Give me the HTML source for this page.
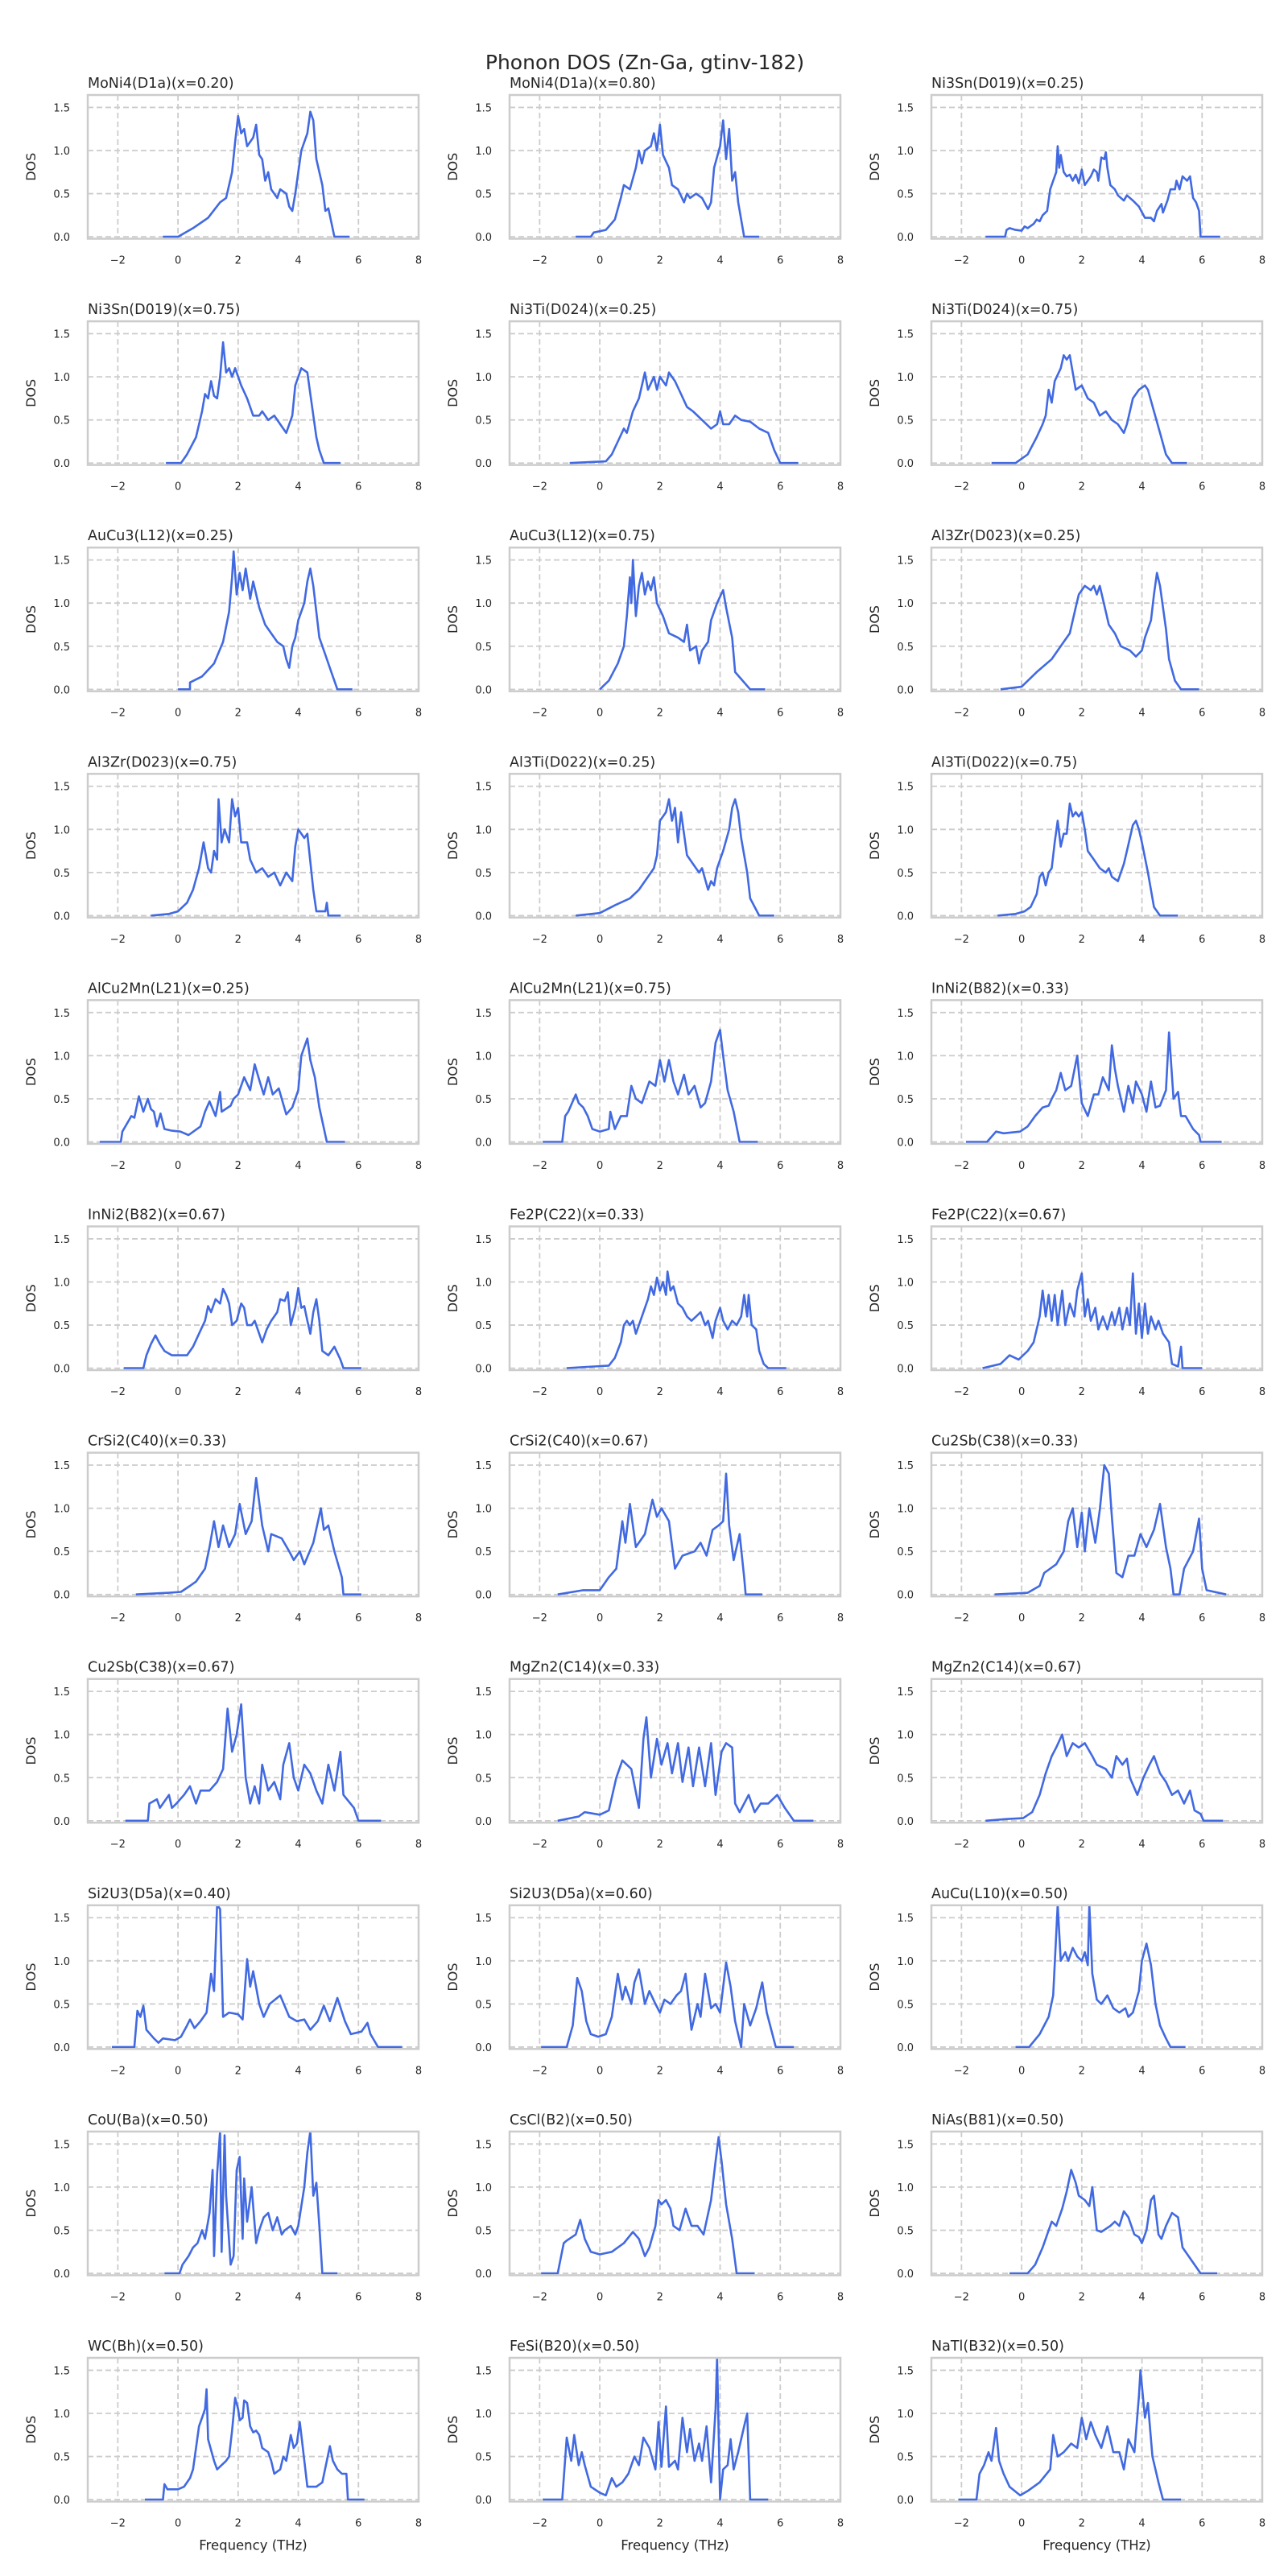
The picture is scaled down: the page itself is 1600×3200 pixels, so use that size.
<!DOCTYPE html>
<html><head><meta charset="utf-8">
<style>
html,body{margin:0;padding:0;background:#fff;}
svg{display:block;font-family:"DejaVu Sans","Liberation Sans",sans-serif;}
</style></head>
<body>
<svg id="fig" width="1600" height="3200" viewBox="0 0 1600 3200" xmlns="http://www.w3.org/2000/svg">
<rect x="0" y="0" width="1600" height="3200" fill="#fff"/>
<text x="801" y="86" font-size="25" fill="#262626" text-anchor="middle">Phonon DOS (Zn-Ga, gtinv-182)</text>
</svg>
<script>
const panelTitles = ["MoNi4(D1a)(x=0.20)","MoNi4(D1a)(x=0.80)","Ni3Sn(D019)(x=0.25)","Ni3Sn(D019)(x=0.75)","Ni3Ti(D024)(x=0.25)","Ni3Ti(D024)(x=0.75)","AuCu3(L12)(x=0.25)","AuCu3(L12)(x=0.75)","Al3Zr(D023)(x=0.25)","Al3Zr(D023)(x=0.75)","Al3Ti(D022)(x=0.25)","Al3Ti(D022)(x=0.75)","AlCu2Mn(L21)(x=0.25)","AlCu2Mn(L21)(x=0.75)","InNi2(B82)(x=0.33)","InNi2(B82)(x=0.67)","Fe2P(C22)(x=0.33)","Fe2P(C22)(x=0.67)","CrSi2(C40)(x=0.33)","CrSi2(C40)(x=0.67)","Cu2Sb(C38)(x=0.33)","Cu2Sb(C38)(x=0.67)","MgZn2(C14)(x=0.33)","MgZn2(C14)(x=0.67)","Si2U3(D5a)(x=0.40)","Si2U3(D5a)(x=0.60)","AuCu(L10)(x=0.50)","CoU(Ba)(x=0.50)","CsCl(B2)(x=0.50)","NiAs(B81)(x=0.50)","WC(Bh)(x=0.50)","FeSi(B20)(x=0.50)","NaTl(B32)(x=0.50)"];
const xTickValues = [-2,0,2,4,6,8];
const yTickValues = [0,0.5,1.0,1.5];
const yTickLabels = ["0.0","0.5","1.0","1.5"];
const xDomain = [-3,8];
const yDomain = [-0.022,1.644];
// each curve: [frequency, dos] pairs
const dosCurves = [
[[-0.5,0],[0,0],[0.5,0.1],[1,0.22],[1.4,0.4],[1.6,0.45],[1.8,0.75],[1.9,1.1],[2.0,1.4],[2.1,1.2],[2.2,1.25],[2.3,1.05],[2.5,1.15],[2.6,1.3],[2.7,0.95],[2.8,0.9],[2.9,0.65],[3.0,0.75],[3.1,0.55],[3.3,0.45],[3.4,0.55],[3.6,0.5],[3.7,0.35],[3.8,0.3],[3.9,0.5],[4.1,1.0],[4.3,1.2],[4.4,1.45],[4.5,1.35],[4.6,0.9],[4.8,0.6],[4.9,0.3],[5.0,0.33],[5.2,0],[5.7,0]],
[[-0.8,0],[-0.3,0],[-0.2,0.05],[0.2,0.08],[0.5,0.2],[0.7,0.45],[0.8,0.6],[1,0.55],[1.2,0.8],[1.3,1.0],[1.4,0.85],[1.5,1.0],[1.7,1.05],[1.8,1.2],[1.9,1.0],[2.0,1.3],[2.1,0.95],[2.3,0.8],[2.4,0.6],[2.6,0.55],[2.8,0.4],[2.9,0.5],[3.0,0.45],[3.2,0.5],[3.4,0.45],[3.6,0.32],[3.7,0.4],[3.8,0.8],[4.0,1.05],[4.1,1.35],[4.2,0.9],[4.3,1.25],[4.4,0.65],[4.5,0.75],[4.6,0.4],[4.8,0],[5.3,0]],
[[-1.2,0],[-0.55,0],[-0.5,0.08],[-0.4,0.1],[-0.2,0.08],[0,0.07],[0.1,0.12],[0.2,0.1],[0.4,0.15],[0.5,0.2],[0.6,0.18],[0.7,0.25],[0.85,0.3],[0.95,0.55],[1.05,0.65],[1.15,0.75],[1.2,1.05],[1.25,0.8],[1.3,0.95],[1.4,0.75],[1.5,0.7],[1.6,0.72],[1.7,0.65],[1.8,0.72],[1.9,0.62],[2.0,0.78],[2.1,0.6],[2.3,0.7],[2.4,0.78],[2.5,0.75],[2.55,0.65],[2.65,0.92],[2.75,0.9],[2.8,0.98],[2.85,0.8],[2.95,0.6],[3.1,0.55],[3.2,0.48],[3.4,0.42],[3.5,0.48],[3.7,0.42],[3.9,0.35],[4.1,0.22],[4.3,0.22],[4.4,0.18],[4.5,0.3],[4.65,0.38],[4.7,0.28],[4.85,0.42],[4.95,0.55],[5.1,0.55],[5.15,0.65],[5.25,0.55],[5.35,0.7],[5.5,0.65],[5.6,0.7],[5.7,0.45],[5.8,0.4],[5.9,0.3],[5.95,0],[6.6,0]],
[[-0.4,0],[0.1,0],[0.3,0.1],[0.6,0.3],[0.8,0.6],[0.9,0.8],[1.0,0.75],[1.1,0.95],[1.2,0.78],[1.3,0.75],[1.4,1.0],[1.5,1.4],[1.6,1.05],[1.7,1.1],[1.8,1.0],[1.9,1.1],[2.1,0.9],[2.3,0.75],[2.5,0.55],[2.7,0.55],[2.8,0.6],[3.0,0.5],[3.2,0.55],[3.4,0.45],[3.6,0.35],[3.8,0.55],[3.9,0.9],[4.1,1.1],[4.3,1.05],[4.4,0.8],[4.6,0.3],[4.7,0.15],[4.85,0],[5.4,0]],
[[-1,0],[0.2,0.02],[0.4,0.1],[0.6,0.25],[0.8,0.4],[0.9,0.35],[1.1,0.6],[1.3,0.75],[1.5,1.05],[1.6,0.85],[1.8,1.0],[1.9,0.85],[2.0,1.0],[2.2,0.9],[2.3,1.05],[2.5,0.95],[2.7,0.8],[2.9,0.65],[3.1,0.6],[3.4,0.5],[3.7,0.4],[3.9,0.45],[4.0,0.6],[4.1,0.45],[4.3,0.45],[4.5,0.55],[4.7,0.5],[5.0,0.48],[5.3,0.4],[5.6,0.35],[5.8,0.15],[6.0,0],[6.6,0]],
[[-1,0],[-0.2,0],[0.2,0.1],[0.5,0.3],[0.7,0.45],[0.8,0.55],[0.9,0.85],[1.0,0.7],[1.1,0.95],[1.3,1.1],[1.4,1.25],[1.5,1.2],[1.6,1.25],[1.7,1.05],[1.8,0.85],[2.0,0.9],[2.2,0.75],[2.4,0.7],[2.6,0.55],[2.8,0.6],[3.0,0.5],[3.2,0.45],[3.4,0.35],[3.5,0.45],[3.7,0.75],[3.9,0.85],[4.1,0.9],[4.2,0.85],[4.4,0.6],[4.6,0.35],[4.8,0.1],[5.0,0],[5.5,0]],
[[0,0],[0.4,0],[0.4,0.08],[0.8,0.15],[1.2,0.3],[1.5,0.55],[1.7,0.9],[1.8,1.3],[1.85,1.6],[1.95,1.1],[2.05,1.35],[2.15,1.15],[2.25,1.4],[2.4,1.05],[2.5,1.25],[2.7,0.95],[2.9,0.75],[3.1,0.65],[3.3,0.55],[3.5,0.5],[3.6,0.35],[3.7,0.25],[3.8,0.5],[3.9,0.6],[4.0,0.8],[4.2,1.0],[4.3,1.25],[4.4,1.4],[4.5,1.2],[4.7,0.6],[4.9,0.4],[5.1,0.2],[5.3,0],[5.8,0]],
[[0,0],[0.3,0.1],[0.6,0.3],[0.8,0.5],[0.9,0.85],[1.0,1.3],[1.05,1.0],[1.1,1.5],[1.2,0.85],[1.3,1.2],[1.4,1.35],[1.5,1.1],[1.6,1.25],[1.7,1.15],[1.8,1.3],[1.9,1.0],[2.1,0.85],[2.3,0.65],[2.6,0.6],[2.8,0.55],[2.9,0.75],[3.0,0.45],[3.2,0.5],[3.3,0.3],[3.4,0.45],[3.6,0.55],[3.7,0.8],[3.9,1.0],[4.1,1.15],[4.2,0.95],[4.4,0.6],[4.5,0.2],[4.7,0.12],[5.0,0],[5.5,0]],
[[-0.7,0],[0,0.03],[0.5,0.2],[1.0,0.35],[1.4,0.55],[1.6,0.65],[1.8,0.95],[1.9,1.1],[2.1,1.2],[2.3,1.15],[2.4,1.2],[2.5,1.1],[2.6,1.2],[2.8,0.9],[2.9,0.75],[3.1,0.65],[3.3,0.5],[3.6,0.45],[3.8,0.38],[4.0,0.45],[4.1,0.6],[4.3,0.8],[4.4,1.1],[4.5,1.35],[4.6,1.2],[4.8,0.7],[4.9,0.35],[5.1,0.1],[5.3,0],[5.9,0]],
[[-0.9,0],[-0.3,0.02],[0,0.05],[0.3,0.15],[0.5,0.3],[0.7,0.55],[0.85,0.85],[1.0,0.55],[1.1,0.5],[1.2,0.75],[1.3,0.65],[1.35,1.35],[1.45,0.85],[1.55,1.0],[1.7,0.85],[1.8,1.35],[1.9,1.15],[2.0,1.25],[2.1,0.85],[2.3,0.85],[2.4,0.65],[2.6,0.5],[2.8,0.55],[3.0,0.45],[3.2,0.5],[3.4,0.35],[3.6,0.5],[3.8,0.4],[3.9,0.8],[4.0,1.0],[4.2,0.9],[4.3,0.95],[4.5,0.3],[4.6,0.05],[4.9,0.05],[4.95,0.15],[5.0,0],[5.4,0]],
[[-0.8,0],[0,0.03],[0.5,0.12],[1.0,0.2],[1.3,0.3],[1.6,0.45],[1.8,0.55],[1.9,0.7],[2.0,1.1],[2.1,1.15],[2.2,1.2],[2.3,1.35],[2.4,1.1],[2.5,1.25],[2.6,0.85],[2.7,1.2],[2.8,0.95],[2.9,0.7],[3.1,0.6],[3.3,0.5],[3.4,0.55],[3.6,0.3],[3.7,0.4],[3.8,0.35],[3.9,0.55],[4.1,0.75],[4.3,1.0],[4.4,1.25],[4.5,1.35],[4.6,1.2],[4.7,0.9],[4.9,0.5],[5.0,0.2],[5.3,0],[5.8,0]],
[[-0.8,0],[-0.2,0.02],[0.1,0.05],[0.3,0.1],[0.5,0.25],[0.6,0.45],[0.7,0.5],[0.8,0.35],[0.9,0.5],[1.0,0.55],[1.1,0.85],[1.2,1.1],[1.3,0.8],[1.4,0.95],[1.5,0.95],[1.6,1.3],[1.7,1.15],[1.8,1.2],[1.9,1.15],[2.0,1.2],[2.1,1.0],[2.2,0.75],[2.4,0.65],[2.6,0.55],[2.8,0.5],[2.9,0.55],[3.0,0.45],[3.2,0.4],[3.4,0.6],[3.5,0.75],[3.7,1.05],[3.8,1.1],[3.9,1.0],[4.0,0.85],[4.2,0.5],[4.4,0.1],[4.6,0],[5.2,0]],
[[-2.6,0],[-1.9,0],[-1.85,0.12],[-1.55,0.3],[-1.45,0.28],[-1.3,0.53],[-1.15,0.35],[-1.0,0.5],[-0.9,0.38],[-0.8,0.35],[-0.7,0.18],[-0.58,0.33],[-0.45,0.15],[-0.2,0.13],[0.08,0.12],[0.35,0.08],[0.75,0.18],[0.9,0.35],[1.05,0.47],[1.25,0.3],[1.4,0.58],[1.45,0.35],[1.75,0.42],[1.85,0.5],[2.0,0.55],[2.2,0.75],[2.4,0.6],[2.55,0.9],[2.7,0.72],[2.85,0.55],[3.0,0.75],[3.15,0.55],[3.35,0.62],[3.6,0.32],[3.8,0.4],[4.0,0.6],[4.1,1.0],[4.3,1.2],[4.4,0.95],[4.55,0.75],[4.7,0.4],[4.95,0],[5.55,0]],
[[-1.9,0],[-1.25,0],[-1.15,0.3],[-1.05,0.35],[-0.8,0.55],[-0.7,0.45],[-0.55,0.4],[-0.4,0.3],[-0.25,0.15],[0,0.12],[0.3,0.15],[0.35,0.35],[0.5,0.15],[0.7,0.3],[0.9,0.3],[1.05,0.65],[1.2,0.5],[1.4,0.45],[1.5,0.55],[1.65,0.7],[1.85,0.65],[2.0,0.95],[2.15,0.7],[2.3,0.95],[2.45,0.7],[2.6,0.55],[2.8,0.78],[2.95,0.55],[3.15,0.65],[3.35,0.4],[3.5,0.45],[3.7,0.7],[3.85,1.15],[4.0,1.3],[4.1,1.0],[4.25,0.6],[4.45,0.35],[4.65,0],[5.25,0]],
[[-1.85,0],[-1.15,0],[-0.85,0.12],[-0.6,0.1],[-0.05,0.12],[0.2,0.18],[0.45,0.3],[0.7,0.4],[0.9,0.42],[1.0,0.5],[1.15,0.6],[1.3,0.8],[1.45,0.6],[1.65,0.65],[1.85,1.0],[2.0,0.45],[2.2,0.3],[2.4,0.55],[2.55,0.55],[2.7,0.75],[2.9,0.6],[3.0,1.12],[3.1,0.85],[3.2,0.65],[3.4,0.35],[3.55,0.65],[3.7,0.45],[3.8,0.7],[4.0,0.55],[4.15,0.35],[4.3,0.7],[4.45,0.4],[4.6,0.42],[4.8,0.6],[4.9,1.27],[5.05,0.5],[5.2,0.58],[5.3,0.3],[5.45,0.3],[5.7,0.15],[5.9,0.08],[5.95,0],[6.65,0]],
[[-1.8,0],[-1.15,0],[-1.05,0.15],[-0.9,0.28],[-0.75,0.38],[-0.6,0.28],[-0.45,0.2],[-0.2,0.15],[0.3,0.15],[0.5,0.25],[0.7,0.4],[0.9,0.55],[1.0,0.72],[1.1,0.65],[1.25,0.8],[1.4,0.75],[1.5,0.92],[1.6,0.85],[1.7,0.75],[1.8,0.5],[1.95,0.55],[2.1,0.75],[2.2,0.7],[2.3,0.5],[2.45,0.5],[2.55,0.55],[2.7,0.4],[2.8,0.3],[2.95,0.45],[3.1,0.55],[3.3,0.65],[3.4,0.8],[3.55,0.78],[3.65,0.88],[3.75,0.5],[3.9,0.7],[4.0,0.93],[4.1,0.7],[4.2,0.72],[4.3,0.55],[4.4,0.4],[4.5,0.65],[4.6,0.8],[4.7,0.55],[4.8,0.2],[5.0,0.15],[5.2,0.25],[5.4,0.1],[5.5,0],[6.1,0]],
[[-1.1,0],[-0.2,0.02],[0.3,0.03],[0.5,0.12],[0.7,0.3],[0.8,0.5],[0.9,0.55],[1.0,0.5],[1.1,0.55],[1.2,0.4],[1.4,0.6],[1.6,0.8],[1.7,0.95],[1.8,0.85],[1.9,1.05],[2.0,0.9],[2.1,1.0],[2.2,0.85],[2.25,1.12],[2.35,0.9],[2.45,0.95],[2.6,0.75],[2.75,0.7],[2.9,0.6],[3.05,0.55],[3.2,0.6],[3.35,0.65],[3.5,0.5],[3.6,0.55],[3.75,0.35],[3.85,0.55],[4.0,0.7],[4.1,0.55],[4.25,0.45],[4.4,0.55],[4.55,0.5],[4.7,0.6],[4.8,0.85],[4.9,0.6],[4.95,0.85],[5.05,0.5],[5.2,0.45],[5.3,0.2],[5.45,0.05],[5.6,0],[6.2,0]],
[[-1.3,0],[-0.7,0.05],[-0.4,0.15],[-0.1,0.1],[0.2,0.2],[0.4,0.3],[0.6,0.6],[0.7,0.9],[0.8,0.6],[0.9,0.85],[1.0,0.55],[1.1,0.85],[1.2,0.5],[1.35,0.9],[1.45,0.5],[1.6,0.75],[1.75,0.6],[1.85,0.9],[2.0,1.1],[2.1,0.6],[2.2,0.8],[2.3,0.55],[2.45,0.7],[2.55,0.45],[2.7,0.6],[2.85,0.45],[3.0,0.65],[3.1,0.5],[3.25,0.7],[3.35,0.45],[3.5,0.7],[3.6,0.5],[3.7,1.1],[3.8,0.4],[3.9,0.75],[4.0,0.35],[4.1,0.75],[4.2,0.4],[4.3,0.6],[4.45,0.45],[4.55,0.55],[4.7,0.4],[4.9,0.3],[5.0,0.05],[5.2,0.02],[5.3,0.25],[5.35,0],[6,0]],
[[-1.4,0],[-0.3,0.02],[0.1,0.03],[0.4,0.1],[0.6,0.15],[0.9,0.3],[1.05,0.55],[1.2,0.85],[1.35,0.55],[1.5,0.8],[1.7,0.55],[1.9,0.7],[2.05,1.05],[2.25,0.7],[2.45,0.85],[2.6,1.35],[2.8,0.8],[3.0,0.5],[3.1,0.7],[3.45,0.65],[3.7,0.5],[3.85,0.4],[4.05,0.5],[4.2,0.35],[4.5,0.6],[4.75,1.0],[4.85,0.75],[5.0,0.8],[5.2,0.5],[5.45,0.2],[5.5,0],[6.1,0]],
[[-1.4,0],[-0.55,0.05],[0,0.05],[0.3,0.2],[0.55,0.3],[0.75,0.85],[0.85,0.6],[1.0,1.05],[1.2,0.55],[1.5,0.7],[1.75,1.1],[1.9,0.9],[2.05,1.0],[2.3,0.85],[2.5,0.3],[2.75,0.45],[3.15,0.5],[3.35,0.6],[3.55,0.45],[3.75,0.75],[3.95,0.8],[4.1,0.85],[4.2,1.4],[4.3,0.8],[4.45,0.4],[4.65,0.7],[4.8,0.2],[4.85,0],[5.4,0]],
[[-0.9,0],[0.2,0.02],[0.6,0.1],[0.75,0.25],[1.15,0.35],[1.4,0.5],[1.55,0.85],[1.7,1.0],[1.85,0.55],[2.0,0.95],[2.1,0.5],[2.25,1.0],[2.45,0.6],[2.6,0.98],[2.75,1.5],[2.9,1.4],[3.0,0.9],[3.15,0.25],[3.35,0.2],[3.55,0.45],[3.75,0.45],[3.95,0.7],[4.15,0.55],[4.4,0.75],[4.6,1.05],[4.8,0.55],[4.95,0.3],[5.05,0],[5.25,0],[5.4,0.3],[5.7,0.5],[5.9,0.88],[6.0,0.3],[6.15,0.05],[6.8,0]],
[[-1.75,0],[-1.0,0],[-0.95,0.2],[-0.7,0.25],[-0.6,0.15],[-0.3,0.3],[-0.2,0.15],[-0.05,0.2],[0.2,0.3],[0.4,0.4],[0.6,0.2],[0.75,0.35],[1.05,0.35],[1.3,0.45],[1.5,0.6],[1.65,1.3],[1.8,0.8],[1.95,1.0],[2.1,1.35],[2.25,0.5],[2.4,0.2],[2.55,0.4],[2.7,0.2],[2.8,0.65],[3.0,0.35],[3.2,0.45],[3.4,0.25],[3.5,0.65],[3.7,0.9],[3.85,0.5],[4.0,0.35],[4.2,0.65],[4.4,0.55],[4.6,0.35],[4.8,0.2],[5.0,0.65],[5.2,0.35],[5.4,0.8],[5.5,0.3],[5.85,0.15],[6.0,0],[6.75,0]],
[[-1.4,0],[-0.7,0.05],[-0.5,0.1],[0,0.07],[0.3,0.12],[0.55,0.5],[0.75,0.7],[1.05,0.6],[1.3,0.15],[1.45,0.95],[1.55,1.2],[1.7,0.5],[1.9,0.95],[2.05,0.65],[2.25,0.9],[2.4,0.55],[2.6,0.9],[2.75,0.45],[2.95,0.85],[3.1,0.4],[3.3,0.85],[3.5,0.4],[3.7,0.9],[3.85,0.3],[4.05,0.8],[4.2,0.9],[4.4,0.85],[4.5,0.2],[4.65,0.1],[4.95,0.3],[5.15,0.1],[5.35,0.2],[5.6,0.2],[5.9,0.3],[6.15,0.15],[6.45,0],[7.1,0]],
[[-1.2,0],[-0.5,0.02],[0.05,0.03],[0.35,0.1],[0.6,0.3],[0.8,0.55],[1.0,0.75],[1.15,0.85],[1.35,1.0],[1.5,0.75],[1.7,0.9],[1.9,0.85],[2.1,0.9],[2.35,0.75],[2.5,0.65],[2.8,0.6],[3.0,0.5],[3.15,0.75],[3.35,0.65],[3.5,0.72],[3.6,0.5],[3.85,0.3],[4.05,0.5],[4.25,0.65],[4.4,0.75],[4.6,0.55],[4.8,0.45],[5.0,0.3],[5.2,0.35],[5.4,0.2],[5.6,0.35],[5.75,0.12],[5.95,0.08],[6.05,0],[6.7,0]],
[[-2.2,0],[-1.45,0],[-1.35,0.42],[-1.25,0.35],[-1.15,0.48],[-1.05,0.2],[-0.8,0.1],[-0.65,0.05],[-0.5,0.1],[-0.1,0.08],[0.1,0.12],[0.3,0.25],[0.4,0.32],[0.55,0.22],[0.75,0.3],[0.95,0.4],[1.1,0.85],[1.2,0.65],[1.3,1.65],[1.4,1.6],[1.5,0.35],[1.7,0.4],[2.0,0.38],[2.15,0.32],[2.3,1.02],[2.4,0.7],[2.5,0.88],[2.7,0.5],[2.85,0.35],[3.05,0.5],[3.4,0.6],[3.7,0.35],[3.95,0.3],[4.2,0.32],[4.4,0.2],[4.65,0.3],[4.85,0.48],[5.05,0.3],[5.3,0.57],[5.55,0.3],[5.75,0.15],[6.1,0.18],[6.3,0.28],[6.4,0.15],[6.65,0],[7.45,0]],
[[-1.95,0],[-1.1,0],[-0.9,0.25],[-0.75,0.8],[-0.6,0.65],[-0.45,0.3],[-0.3,0.15],[-0.05,0.12],[0.2,0.15],[0.4,0.35],[0.6,0.85],[0.75,0.55],[0.85,0.7],[1.05,0.5],[1.15,0.75],[1.3,0.9],[1.5,0.5],[1.65,0.65],[1.85,0.5],[2.0,0.4],[2.15,0.55],[2.35,0.5],[2.55,0.6],[2.7,0.65],[2.85,0.85],[3.05,0.2],[3.25,0.5],[3.35,0.35],[3.5,0.85],[3.7,0.45],[3.85,0.5],[4.0,0.4],[4.2,0.98],[4.35,0.7],[4.5,0.3],[4.7,0],[4.8,0.5],[5.0,0.25],[5.2,0.45],[5.4,0.75],[5.55,0.4],[5.7,0.2],[5.85,0],[6.45,0]],
[[-0.2,0],[0.25,0],[0.6,0.15],[0.9,0.35],[1.05,0.6],[1.2,1.65],[1.3,1.0],[1.45,1.1],[1.55,1.0],[1.7,1.15],[1.85,1.05],[2.0,1.0],[2.1,1.1],[2.2,0.95],[2.25,1.65],[2.35,0.85],[2.5,0.55],[2.65,0.5],[2.85,0.6],[3.05,0.45],[3.25,0.4],[3.45,0.45],[3.55,0.35],[3.7,0.4],[3.9,0.65],[4.0,1.0],[4.15,1.2],[4.3,0.95],[4.45,0.5],[4.6,0.25],[4.8,0.1],[4.95,0],[5.45,0]],
[[-0.45,0],[0.05,0],[0.15,0.1],[0.35,0.2],[0.5,0.3],[0.65,0.35],[0.8,0.5],[0.9,0.4],[1.05,0.7],[1.15,1.2],[1.2,0.2],[1.3,1.15],[1.4,1.65],[1.45,0.25],[1.55,1.6],[1.6,0.9],[1.75,0.1],[1.85,0.2],[1.95,1.2],[2.05,1.35],[2.15,0.4],[2.2,1.1],[2.3,0.6],[2.45,1.0],[2.6,0.35],[2.7,0.5],[2.85,0.65],[3.0,0.7],[3.15,0.5],[3.3,0.65],[3.45,0.45],[3.55,0.5],[3.75,0.55],[3.9,0.45],[4.0,0.55],[4.2,1.0],[4.3,1.4],[4.4,1.65],[4.5,0.9],[4.6,1.05],[4.7,0.55],[4.8,0],[5.3,0]],
[[-1.95,0],[-1.4,0],[-1.2,0.35],[-1.1,0.38],[-0.8,0.45],[-0.65,0.62],[-0.5,0.4],[-0.3,0.25],[0,0.22],[0.4,0.25],[0.8,0.35],[1.1,0.48],[1.3,0.4],[1.5,0.2],[1.65,0.3],[1.85,0.55],[1.95,0.85],[2.05,0.8],[2.2,0.85],[2.35,0.75],[2.45,0.55],[2.65,0.5],[2.85,0.75],[3.05,0.55],[3.25,0.55],[3.45,0.45],[3.7,0.85],[3.85,1.3],[3.95,1.58],[4.05,1.3],[4.2,0.8],[4.4,0.4],[4.55,0],[5.15,0]],
[[-0.4,0],[0.2,0],[0.45,0.1],[0.7,0.3],[0.9,0.5],[1.0,0.6],[1.15,0.55],[1.35,0.75],[1.5,0.95],[1.65,1.2],[1.8,1.05],[1.9,0.9],[2.1,0.85],[2.25,0.78],[2.35,1.0],[2.5,0.5],[2.65,0.48],[2.95,0.55],[3.1,0.6],[3.25,0.55],[3.4,0.72],[3.55,0.65],[3.75,0.45],[3.9,0.42],[4.0,0.35],[4.15,0.5],[4.3,0.85],[4.4,0.9],[4.55,0.45],[4.65,0.4],[4.8,0.55],[5.0,0.7],[5.2,0.65],[5.35,0.3],[5.55,0.2],[5.75,0.1],[5.95,0],[6.5,0]],
[[-1.1,0],[-0.5,0],[-0.45,0.18],[-0.35,0.12],[0,0.12],[0.2,0.15],[0.4,0.25],[0.5,0.35],[0.6,0.6],[0.7,0.85],[0.8,0.95],[0.9,1.05],[0.95,1.28],[1.0,0.7],[1.2,0.45],[1.3,0.35],[1.6,0.45],[1.7,0.5],[1.8,0.8],[1.9,1.18],[2.0,1.05],[2.05,0.92],[2.15,0.95],[2.2,1.15],[2.3,1.12],[2.4,0.85],[2.5,0.78],[2.6,0.8],[2.7,0.75],[2.8,0.6],[3.0,0.55],[3.1,0.45],[3.2,0.3],[3.4,0.35],[3.5,0.5],[3.6,0.45],[3.75,0.75],[3.85,0.6],[3.95,0.65],[4.05,0.9],[4.15,0.6],[4.3,0.15],[4.6,0.15],[4.8,0.2],[4.95,0.45],[5.05,0.62],[5.15,0.45],[5.3,0.35],[5.45,0.3],[5.6,0.3],[5.65,0],[6.2,0]],
[[-1.9,0],[-1.25,0],[-1.1,0.72],[-0.95,0.45],[-0.85,0.75],[-0.7,0.4],[-0.6,0.55],[-0.5,0.4],[-0.3,0.15],[0,0.08],[0.2,0.05],[0.4,0.25],[0.55,0.15],[0.75,0.2],[0.95,0.3],[1.15,0.5],[1.3,0.4],[1.45,0.72],[1.65,0.6],[1.85,0.35],[1.95,0.9],[2.05,0.38],[2.2,1.08],[2.3,0.38],[2.5,0.45],[2.6,0.35],[2.75,0.95],[2.9,0.55],[3.0,0.82],[3.15,0.45],[3.3,0.65],[3.4,0.45],[3.55,0.85],[3.7,0.2],[3.85,1.05],[3.9,1.65],[4.0,0],[4.1,0.35],[4.25,0.4],[4.35,0.7],[4.45,0.35],[4.6,0.55],[4.8,0.85],[4.9,1.0],[5.0,0],[5.6,0]],
[[-2.1,0],[-1.5,0],[-1.4,0.3],[-1.25,0.4],[-1.1,0.55],[-1.0,0.45],[-0.85,0.83],[-0.75,0.45],[-0.6,0.3],[-0.4,0.15],[-0.05,0.05],[0.2,0.1],[0.6,0.2],[0.95,0.35],[1.05,0.75],[1.2,0.5],[1.4,0.55],[1.65,0.65],[1.85,0.6],[2.0,0.95],[2.15,0.7],[2.3,0.9],[2.45,0.75],[2.65,0.6],[2.85,0.85],[3.05,0.55],[3.25,0.55],[3.4,0.35],[3.55,0.7],[3.75,0.55],[3.9,1.2],[3.95,1.5],[4.1,0.95],[4.2,1.12],[4.35,0.5],[4.55,0.2],[4.7,0],[5.3,0]]
];

const NS = "http://www.w3.org/2000/svg";
const svg = document.getElementById("fig");
const colLeft = [109, 633, 1157];
const axW = 411, axH = 178.5, rowTop0 = 118, rowStep = 281.1;

function mk(tag, attrs, parent) {
  const el = document.createElementNS(NS, tag);
  for (const k in attrs) el.setAttribute(k, attrs[k]);
  parent.appendChild(el);
  return el;
}

panelTitles.forEach((title, i) => {
  const r = Math.floor(i / 3), c = i % 3;
  const L = colLeft[c], T = rowTop0 + r * rowStep;
  const xs = v => L + (v - xDomain[0]) / (xDomain[1] - xDomain[0]) * axW;
  const ys = v => T + axH - (v - yDomain[0]) / (yDomain[1] - yDomain[0]) * axH;

  const g = mk("g", {}, svg);
  
  

  const cp = mk("clipPath", {id: "clip" + i}, g);
  mk("rect", {x: L, y: T, width: axW, height: axH}, cp);

  xTickValues.forEach(v => {
    const gl = mk("line", {x1: xs(v), x2: xs(v), y1: T, y2: T + axH, stroke: "#cccccc", "stroke-width": 1.8, "stroke-dasharray": "7,4"}, g);
    
    
    const tl = mk("text", {x: xs(v), y: T + axH + 31, "font-size": 13, fill: "#262626", "text-anchor": "middle"}, g);
    tl.textContent = v < 0 ? "\u2212" + Math.abs(v) : String(v);
    
    
  });
  yTickValues.forEach((v, k) => {
    const gl = mk("line", {x1: L, x2: L + axW, y1: ys(v), y2: ys(v), stroke: "#cccccc", "stroke-width": 1.8, "stroke-dasharray": "7,4"}, g);
    
    
    const tl = mk("text", {x: L - 22, y: ys(v) + 5, "font-size": 13, fill: "#262626", "text-anchor": "end"}, g);
    tl.textContent = yTickLabels[k];
    
    
  });

  const pts = dosCurves[i].map(p => xs(p[0]).toFixed(1) + "," + ys(p[1]).toFixed(1)).join(" ");
  const line = mk("polyline", {points: pts, fill: "none", stroke: "#4169e1", "stroke-width": 2.6, "stroke-linejoin": "round", "clip-path": "url(#clip" + i + ")"}, g);
  
  

  const fr = mk("rect", {x: L, y: T, width: axW, height: axH, fill: "none", stroke: "#cccccc", "stroke-width": 2.5}, g);
  
  

  const tt = mk("text", {x: L, y: T - 9, "font-size": 17.5, fill: "#262626"}, g);
  tt.textContent = title;
  
  

  const yl = mk("text", {x: 0, y: 0, "font-size": 16, fill: "#262626", "text-anchor": "middle", transform: "translate(" + (L - 65) + "," + (T + axH / 2) + ") rotate(-90)"}, g);
  yl.textContent = "DOS";
  
  

  if (r === 10) {
    const xl = mk("text", {x: L + axW / 2, y: T + axH + 60, "font-size": 16.5, fill: "#262626", "text-anchor": "middle"}, g);
    xl.textContent = "Frequency (THz)";
    
    
  }
});
</script>
</body></html>
